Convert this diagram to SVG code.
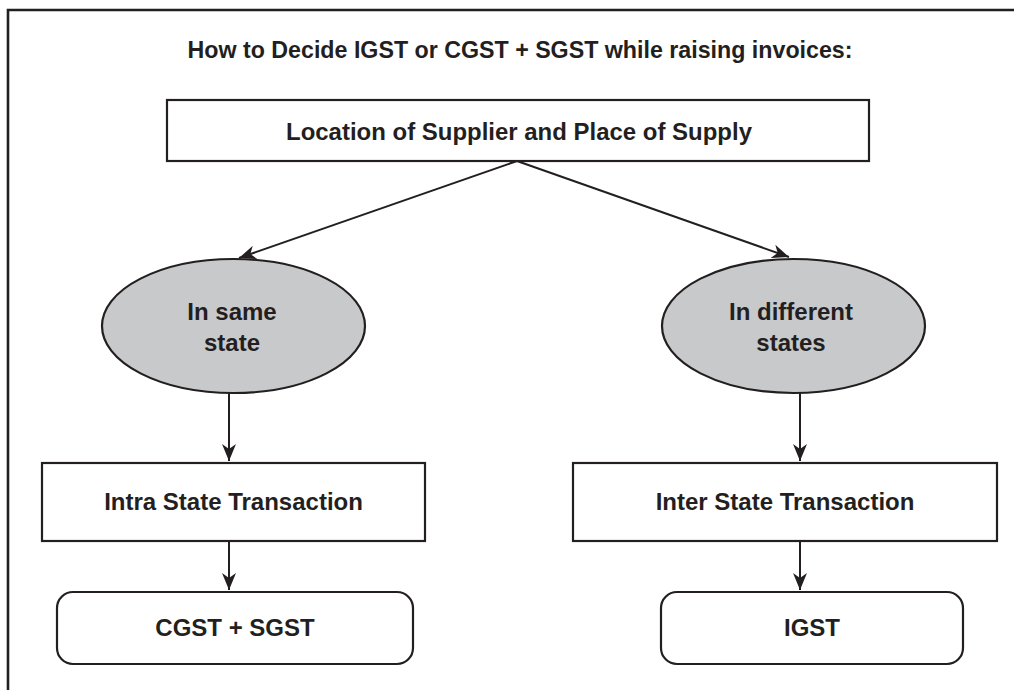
<svg xmlns="http://www.w3.org/2000/svg" width="1014" height="690" viewBox="0 0 1014 690">
<style>
.t{font-family:"Liberation Sans",Arial,sans-serif;font-weight:bold;font-size:24px;fill:#231f20;text-anchor:middle}
.box{fill:#fff;stroke:#231f20;stroke-width:2.2}
.ell{fill:#c8c9cb;stroke:#231f20;stroke-width:2.2}
.conn{stroke:#231f20;stroke-width:2;fill:none;marker-end:url(#ah)}
</style>
<defs>
<marker id="ah" markerUnits="userSpaceOnUse" markerWidth="18" markerHeight="14" viewBox="0 0 18 14" refX="17" refY="7" orient="auto">
<path d="M0,0 L17,7 L0,14 L5,7 z" fill="#231f20"/>
</marker>
</defs>
<rect width="1014" height="690" fill="#fff"/>
<path d="M8,690 L8,10 L1014,10" fill="none" stroke="#231f20" stroke-width="2.6"/>
<text class="t" x="520" y="58" textLength="665" lengthAdjust="spacingAndGlyphs">How to Decide IGST or CGST + SGST while raising invoices:</text>
<g id="connectors">
<line class="conn" x1="517" y1="161" x2="239" y2="258"/>
<line class="conn" x1="517" y1="161" x2="789" y2="257"/>
<line class="conn" x1="229" y1="393" x2="229" y2="461"/>
<line class="conn" x1="800" y1="393" x2="800" y2="461"/>
<line class="conn" x1="229" y1="541" x2="229" y2="590"/>
<line class="conn" x1="800" y1="541" x2="800" y2="590"/>
</g>
<g id="location">
<rect class="box" x="167" y="100" width="702" height="61"/>
<text class="t" x="519" y="140" textLength="466" lengthAdjust="spacingAndGlyphs">Location of Supplier and Place of Supply</text>
</g>
<g id="same-state">
<ellipse class="ell" cx="233.5" cy="326" rx="131.5" ry="67"/>
<text class="t" x="232" y="320">In same</text>
<text class="t" x="232" y="351">state</text>
</g>
<g id="different-states">
<ellipse class="ell" cx="793.5" cy="326" rx="131.5" ry="67"/>
<text class="t" x="791" y="320">In different</text>
<text class="t" x="791" y="351">states</text>
</g>
<g id="intra">
<rect class="box" x="42" y="463" width="383" height="78"/>
<text class="t" x="233.5" y="510">Intra State Transaction</text>
</g>
<g id="inter">
<rect class="box" x="573" y="463" width="424" height="78"/>
<text class="t" x="785" y="510">Inter State Transaction</text>
</g>
<g id="cgst-sgst">
<rect class="box" x="57" y="592" width="356" height="72" rx="16" ry="16"/>
<text class="t" x="235" y="636">CGST + SGST</text>
</g>
<g id="igst">
<rect class="box" x="661" y="592" width="302" height="72" rx="16" ry="16"/>
<text class="t" x="812" y="636">IGST</text>
</g>
</svg>
